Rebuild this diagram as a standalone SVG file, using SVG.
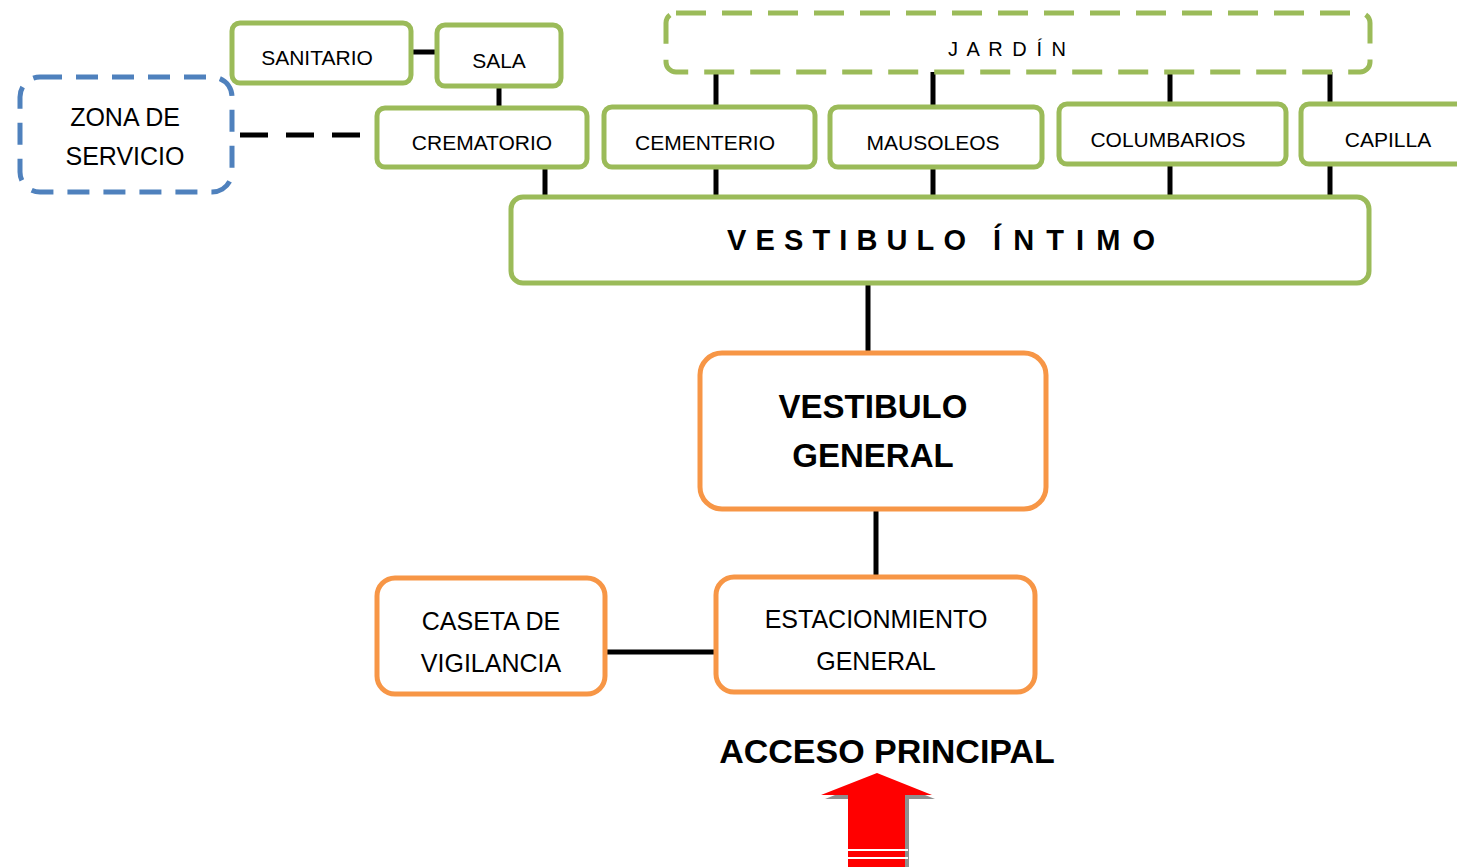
<svg xmlns="http://www.w3.org/2000/svg" width="1457" height="867" viewBox="0 0 1457 867">
<style>
.g{fill:#fff;stroke:#9BBB59;stroke-width:5}
.gd{fill:#fff;stroke:#9BBB59;stroke-width:5;stroke-dasharray:30 16}
.bd{fill:#fff;stroke:#4F81BD;stroke-width:5;stroke-dasharray:22 14}
.o{fill:#fff;stroke:#F79646;stroke-width:5}
.t{font-family:"Liberation Sans",Arial,sans-serif;font-size:21px;fill:#000;text-anchor:middle}
.tm{font-family:"Liberation Sans",Arial,sans-serif;font-size:25px;fill:#000;text-anchor:middle}
.tb{font-family:"Liberation Sans",Arial,sans-serif;font-size:33px;font-weight:bold;fill:#000;text-anchor:middle}
.vi{font-family:"Liberation Sans",Arial,sans-serif;font-size:29px;font-weight:bold;fill:#000}
.c{stroke:#000;stroke-width:5;fill:none}
</style>
<rect width="1457" height="867" fill="#fff"/>
<g id="connectors">
<line class="c" x1="411" y1="52" x2="437" y2="52"/>
<line class="c" x1="499" y1="86" x2="499" y2="108"/>
<line class="c" x1="240" y1="135" x2="360" y2="135" stroke-dasharray="28 18"/>
<line class="c" x1="545" y1="167" x2="545" y2="197"/>
<line class="c" x1="716" y1="72" x2="716" y2="107"/>
<line class="c" x1="716" y1="167" x2="716" y2="197"/>
<line class="c" x1="933" y1="72" x2="933" y2="107"/>
<line class="c" x1="933" y1="167" x2="933" y2="197"/>
<line class="c" x1="1170" y1="72" x2="1170" y2="104"/>
<line class="c" x1="1170" y1="164" x2="1170" y2="197"/>
<line class="c" x1="1330" y1="72" x2="1330" y2="104"/>
<line class="c" x1="1330" y1="164" x2="1330" y2="197"/>
<line class="c" x1="868" y1="283" x2="868" y2="353"/>
<line class="c" x1="876" y1="509" x2="876" y2="577"/>
<line class="c" x1="605" y1="652" x2="716" y2="652"/>
</g>
<g id="zona-servicio"><rect class="bd" x="20" y="77" width="212" height="115" rx="20"/><text class="tm" x="125" y="126">ZONA DE</text><text class="tm" x="125" y="165">SERVICIO</text></g>
<g id="sanitario"><rect class="g" x="232" y="23" width="179" height="60" rx="8"/><text class="t" x="317" y="65">SANITARIO</text></g>
<g id="sala"><rect class="g" x="437" y="25" width="124" height="61" rx="8"/><text class="t" x="499" y="68">SALA</text></g>
<g id="crematorio"><rect class="g" x="377" y="108" width="210" height="59" rx="8"/><text class="t" x="482" y="150">CREMATORIO</text></g>
<g id="jardin"><rect class="gd" x="666" y="13" width="704" height="59" rx="10"/><text class="t" x="948" y="56" textLength="118" lengthAdjust="spacing" style="text-anchor:start;font-size:20px">J A R D Í N</text></g>
<g id="cementerio"><rect class="g" x="604" y="107" width="211" height="60" rx="8"/><text class="t" x="705" y="150">CEMENTERIO</text></g>
<g id="mausoleos"><rect class="g" x="830" y="107" width="212" height="60" rx="8"/><text class="t" x="933" y="150">MAUSOLEOS</text></g>
<g id="columbarios"><rect class="g" x="1059" y="104" width="227" height="60" rx="8"/><text class="t" x="1168" y="147">COLUMBARIOS</text></g>
<g id="capilla"><rect class="g" x="1301" y="104" width="170" height="60" rx="8"/><text class="t" x="1388" y="147">CAPILLA</text></g>
<g id="vestibulo-intimo"><rect class="g" x="511" y="197" width="858" height="86" rx="12"/><text class="vi" y="250"><tspan x="727" textLength="239" lengthAdjust="spacing">VESTIBULO</tspan> <tspan x="993" textLength="162" lengthAdjust="spacing">ÍNTIMO</tspan></text></g>
<g id="vestibulo-general"><rect class="o" x="700" y="353" width="346" height="156" rx="22"/><text class="tb" x="873" y="418">VESTIBULO</text><text class="tb" x="873" y="467">GENERAL</text></g>
<g id="estacionamiento"><rect class="o" x="716" y="577" width="319" height="115" rx="18"/><text class="tm" x="876" y="628">ESTACIONMIENTO</text><text class="tm" x="876" y="670">GENERAL</text></g>
<g id="caseta"><rect class="o" x="377" y="578" width="228" height="116" rx="18"/><text class="tm" x="491" y="630">CASETA DE</text><text class="tm" x="491" y="672">VIGILANCIA</text></g>
<g id="acceso"><text class="tb" x="887" y="763" style="font-size:34px">ACCESO PRINCIPAL</text>
<polygon points="880,777 935,799 909,799 909,867 852,867 852,799 825,799" fill="#8f8f8f"/>
<polygon points="877,773 932,795 905,795 905,867 848,867 848,795 821,795" fill="#f00"/>
<rect x="848" y="849" width="60" height="2" fill="#fff"/>
<rect x="848" y="857" width="60" height="2" fill="#fff"/>
</g>
</svg>
